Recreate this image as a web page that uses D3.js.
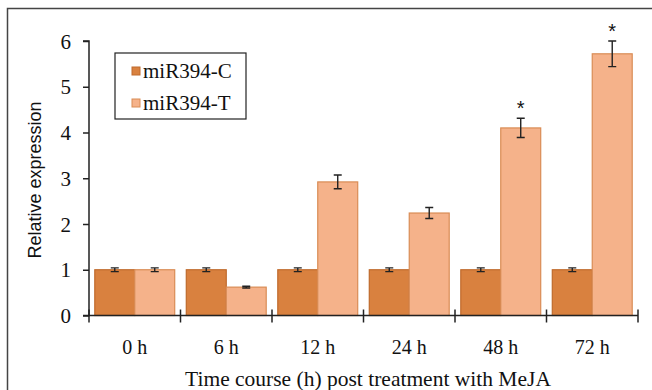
<!DOCTYPE html>
<html>
<head>
<meta charset="utf-8">
<script src="https://cdn.jsdelivr.net/npm/d3@7"></script>
<style>
  body { margin: 0; background: #fff; }
  svg text { fill: #111; }
  .serif { font-family: "Liberation Serif", "Times New Roman", "DejaVu Serif", serif; }
  .sans { font-family: "Liberation Sans", Arial, sans-serif; }
</style>
</head>
<body>
<div id="chart"></div>
<script>
// data
var timePoints = ["0 h", "6 h", "12 h", "24 h", "48 h", "72 h"];
var seriesNames = ["miR394-C", "miR394-T"];
var controlValues = [1.0, 1.0, 1.0, 1.0, 1.0, 1.0];
var controlErrors = [0.04, 0.04, 0.04, 0.04, 0.04, 0.04];
var treatedValues = [1.0, 0.62, 2.92, 2.24, 4.1, 5.72];
var treatedErrors = [0.04, 0.02, 0.15, 0.12, 0.21, 0.28];
var significant = [false, false, false, false, true, true];
var yTicks = [0, 1, 2, 3, 4, 5, 6];

var width = 652, height = 390;
var colors = { fill: ["#d9813f", "#f5b28a"], stroke: ["#bf6a2c", "#d98c55"] };

var svg = d3.select("#chart").append("svg")
    .attr("width", width)
    .attr("height", height);

// outer frame (only top and left visible in crop)
svg.append("path")
    .attr("d", "M7.5," + height + "V8.5H" + width)
    .attr("fill", "none")
    .attr("stroke", "#444")
    .attr("stroke-width", 1.5);

var plot = { left: 89, right: 638, top: 41, bottom: 315.5 };

var x0 = d3.scaleBand().domain(timePoints).range([plot.left, plot.right]).padding(0);
var x1 = d3.scaleBand().domain(seriesNames)
    .range([0, x0.bandwidth()]).paddingOuter(0.145).paddingInner(0);
var y = d3.scaleLinear().domain([0, 6]).range([plot.bottom, plot.top]);

// rows for drawing
var rows = [];
timePoints.forEach(function (t, i) {
    rows.push({ t: t, s: 0, v: controlValues[i], e: controlErrors[i], star: false });
    rows.push({ t: t, s: 1, v: treatedValues[i], e: treatedErrors[i], star: significant[i] });
});

// bars
svg.append("g").selectAll("rect")
    .data(rows)
    .enter().append("rect")
    .attr("x", function (d) { return x0(d.t) + x1(seriesNames[d.s]); })
    .attr("y", function (d) { return y(d.v); })
    .attr("width", x1.bandwidth())
    .attr("height", function (d) { return y(0) - y(d.v); })
    .attr("fill", function (d) { return colors.fill[d.s]; })
    .attr("stroke", function (d) { return colors.stroke[d.s]; })
    .attr("stroke-width", 1.2);

// error bars
var cap = 4;
var eb = svg.append("g").attr("stroke", "#222").attr("stroke-width", 1.4).attr("fill", "none");
eb.selectAll("path")
    .data(rows)
    .enter().append("path")
    .attr("d", function (d) {
        var cx = x0(d.t) + x1(seriesNames[d.s]) + x1.bandwidth() / 2;
        var y1 = y(d.v + d.e), y2 = y(d.v - d.e);
        return "M" + (cx - cap) + "," + y1 + "H" + (cx + cap) +
            "M" + cx + "," + y1 + "V" + y2 +
            "M" + (cx - cap) + "," + y2 + "H" + (cx + cap);
    });

// significance stars
svg.append("g").selectAll("text")
    .data(rows.filter(function (d) { return d.star; }))
    .enter().append("text")
    .attr("class", "sans")
    .attr("x", function (d) { return x0(d.t) + x1(seriesNames[d.s]) + x1.bandwidth() / 2; })
    .attr("y", function (d) { return y(d.v + d.e) - 3; })
    .attr("text-anchor", "middle")
    .style("font-size", "20px")
    .text("*");

// y axis
var yAxis = svg.append("g")
    .attr("transform", "translate(" + plot.left + ",0)")
    .call(d3.axisLeft(y).tickValues(yTicks).tickSize(6).tickPadding(12).tickFormat(d3.format("d")));
yAxis.attr("font-family", null).attr("font-size", null);
yAxis.select(".domain").attr("stroke", "#222").attr("stroke-width", 1.5).attr("d", "M-6," + y(6) + "H0V" + y(0) + "H-6");
yAxis.selectAll(".tick line").attr("stroke", "#222").attr("stroke-width", 1.5);
yAxis.selectAll(".tick text")
    .attr("class", "serif")
    .style("font-size", "21px")
    .attr("dy", "0.34em")
    .attr("fill", "#111");

// x axis with ticks between groups, crossing the axis line
var xAxis = svg.append("g").attr("stroke", "#222").attr("stroke-width", 1.5);
xAxis.append("line")
    .attr("x1", plot.left).attr("x2", plot.right)
    .attr("y1", y(0)).attr("y2", y(0));
var bounds = timePoints.map(function (t) { return x0(t); }).concat([plot.right]);
xAxis.selectAll(".xt")
    .data(bounds)
    .enter().append("line")
    .attr("class", "xt")
    .attr("x1", function (d) { return d; }).attr("x2", function (d) { return d; })
    .attr("y1", y(0) - 6).attr("y2", y(0) + 7);

svg.append("g").selectAll("text")
    .data(timePoints)
    .enter().append("text")
    .attr("class", "serif")
    .attr("x", function (d) { return x0(d) + x0.bandwidth() / 2; })
    .attr("y", 354)
    .attr("text-anchor", "middle")
    .style("font-size", "20px")
    .text(function (d) { return d; });

// axis titles
svg.append("text")
    .attr("class", "serif")
    .attr("x", 368)
    .attr("y", 386)
    .attr("text-anchor", "middle")
    .style("font-size", "21.5px")
    .text("Time course (h) post treatment with MeJA");

svg.append("text")
    .attr("class", "sans")
    .attr("transform", "translate(41,180) rotate(-90)")
    .attr("text-anchor", "middle")
    .style("font-size", "18px")
    .text("Relative expression");

// legend
var legend = svg.append("g").attr("transform", "translate(115,53)");
legend.append("rect")
    .attr("width", 131).attr("height", 66)
    .attr("fill", "#fff").attr("stroke", "#222").attr("stroke-width", 1.2);
seriesNames.forEach(function (name, i) {
    var row = legend.append("g").attr("transform", "translate(17," + (18 + i * 32) + ")");
    row.append("rect")
        .attr("width", 8).attr("height", 8).attr("y", -4)
        .attr("fill", colors.fill[i]).attr("stroke", colors.stroke[i]).attr("stroke-width", 1);
    row.append("text")
        .attr("class", "serif")
        .attr("x", 11).attr("y", 7)
        .style("font-size", "21px")
        .text(name);
});
</script>
</body>
</html>
